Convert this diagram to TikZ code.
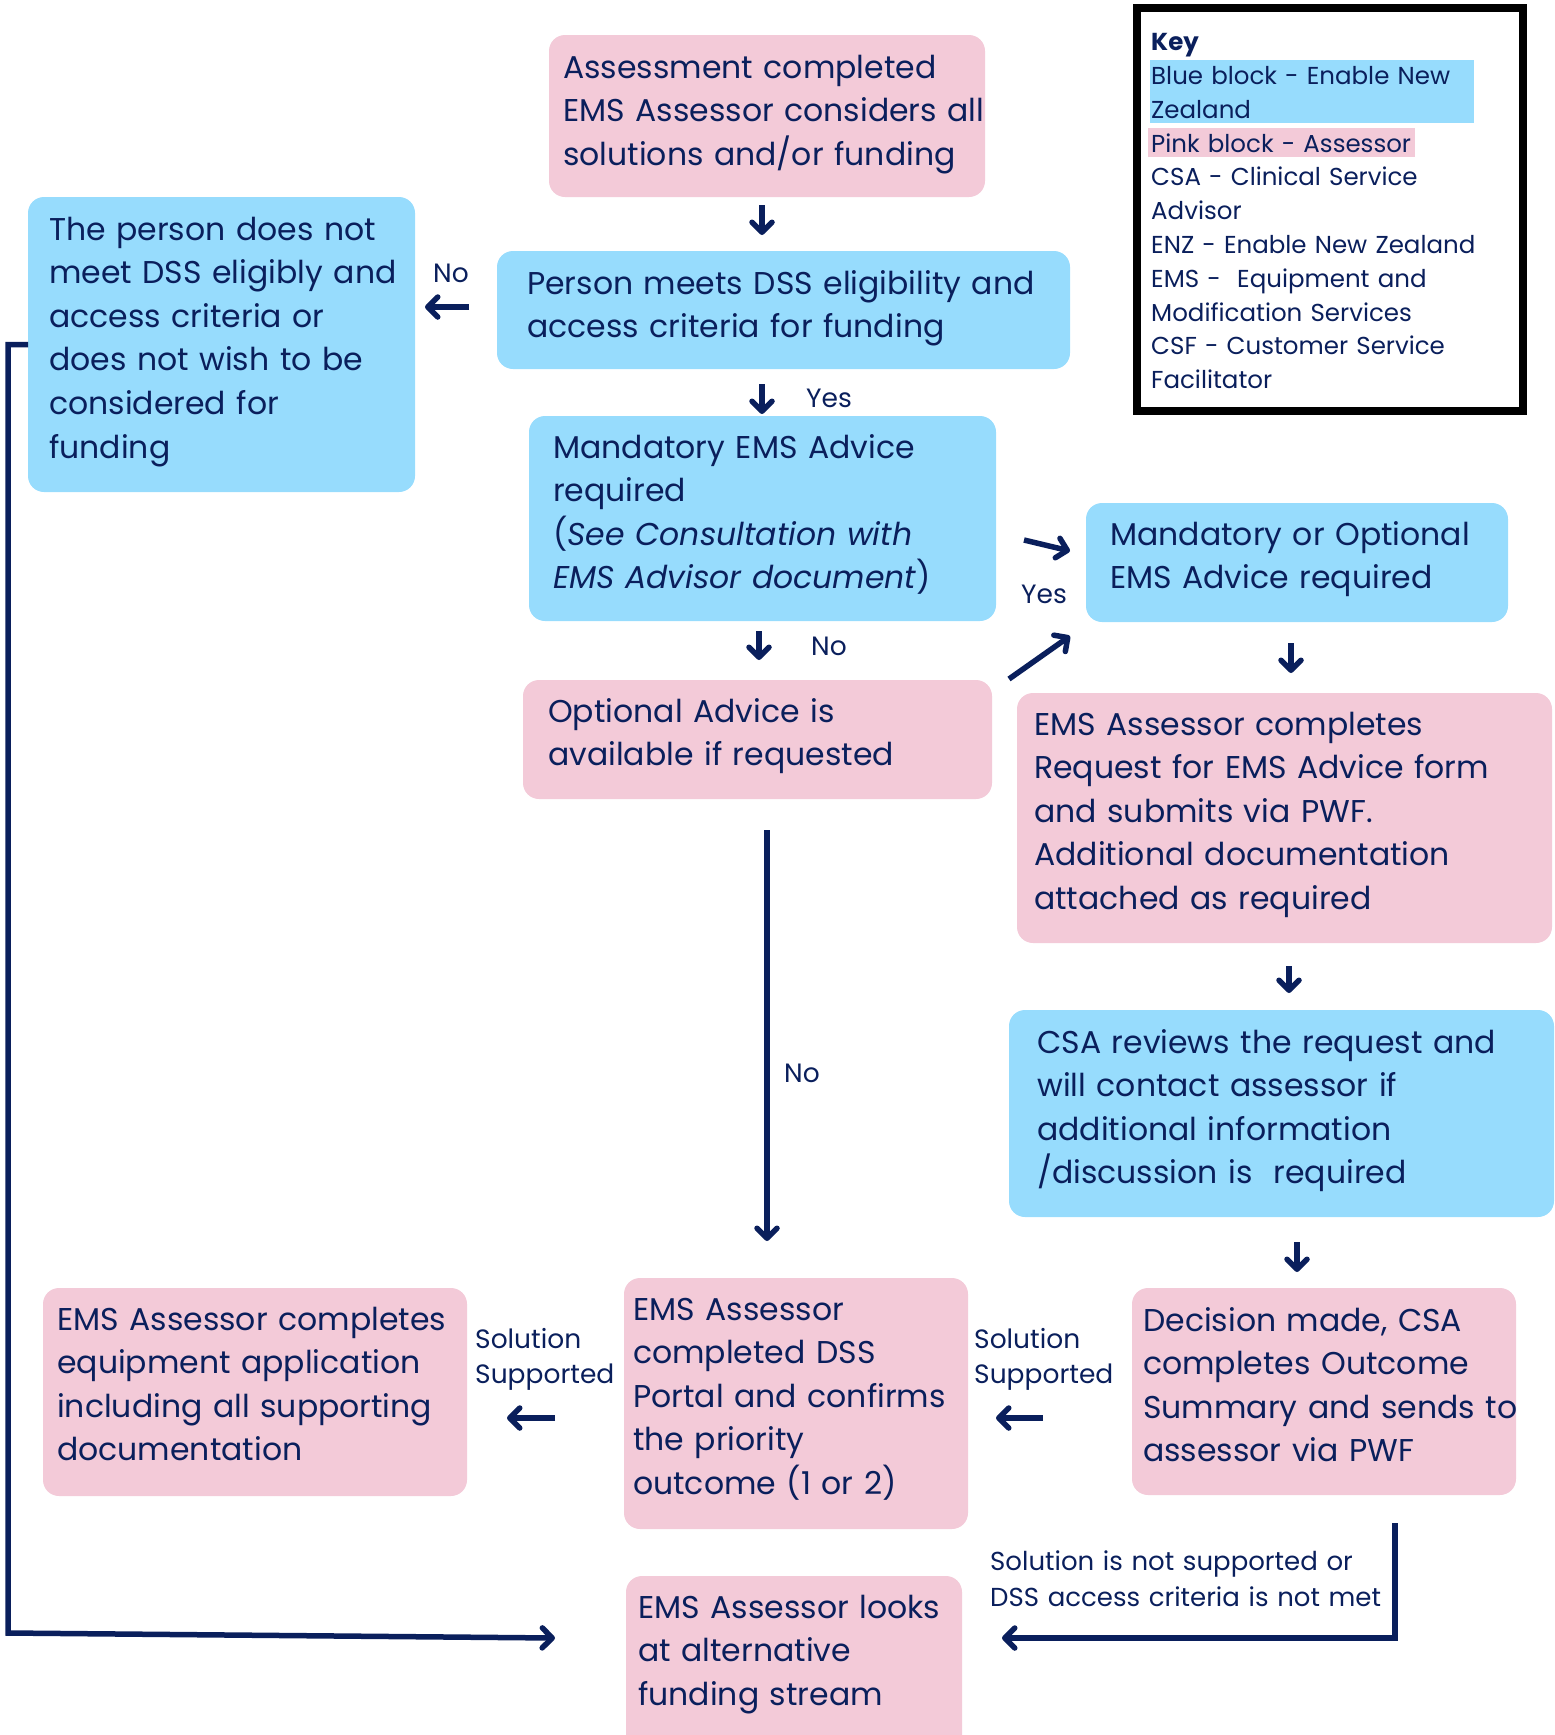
\documentclass[tikz,border=0pt]{standalone}
\usepackage{fontspec}
\setmainfont{Poppins}
\usetikzlibrary{arrows.meta}
\definecolor{navy}{HTML}{0A1F5C}
\definecolor{skyblock}{HTML}{97DCFD}
\definecolor{pinkblock}{HTML}{F3CAD8}
\tikzset{
  block/.style={rounded corners=16pt, inner sep=0pt, outer sep=0pt, anchor=north west},
  bluebox/.style={block, fill=skyblock},
  pinkbox/.style={block, fill=pinkblock},
  boxtext/.style={anchor=base west, inner sep=0pt, text width=560pt, align=left, text=navy, font=\fontsize{31.5}{43.6}\selectfont},
  smalltext/.style={anchor=base west, inner sep=0pt, text width=400pt, align=left, text=navy, font=\fontsize{26.5}{35}\selectfont},
  arr/.style={draw=navy, line width=5.5pt, -{Straight Barb[length=10pt,width=20pt,round]}},
}
\begin{document}
\begin{tikzpicture}[x=1pt,y=-1pt]
            \useasboundingbox (0,0) rectangle (1555,1735);
            \clip (0,0) rectangle (1555,1735);
            % Key
            \node[draw=black, fill=white, line width=8pt, inner sep=0pt, outer sep=0pt, anchor=north west, minimum width=386, minimum height=403] (keybox) at (1137,8) {};
            \fill[skyblock] (1150,60) rectangle (1474,123);
            \fill[pinkblock] (1148,128) rectangle (1415,157);
            \node[anchor=base west, inner sep=0pt, text width=360pt, align=left, text=navy, font=\fontsize{24.5}{33.8}\selectfont] (keyT) at (1151,50.7) {\textbf{Key}\\Blue block - Enable New\\Zealand\\Pink block - Assessor\\CSA - Clinical Service\\Advisor\\ENZ - Enable New Zealand\\EMS -~ Equipment and\\Modification Services\\CSF - Customer Service\\Facilitator};
            % Assessment
            \node[pinkbox, minimum width=436, minimum height=162] (assess) at (549,35) {};
            \node[boxtext] (assessT) at (563,78) {Assessment completed\\EMS Assessor considers all\\solutions and/or funding};
            % DSS eligibility
            \node[bluebox, minimum width=573, minimum height=118] (meets) at (497,251) {};
            \node[boxtext] (meetsT) at (527,294) {Person meets DSS eligibility and\\access criteria for funding};
            % not eligible
            \node[bluebox, minimum width=387, minimum height=295] (notmeet) at (28,197) {};
            \node[boxtext] (notmeetT) at (49,240) {The person does not\\meet DSS eligibly and\\access criteria or\\does not wish to be\\considered for\\funding};
            % mandatory advice
            \node[bluebox, minimum width=467, minimum height=205] (mand) at (529,416) {};
            \node[boxtext] (mandT) at (553,458) {Mandatory EMS Advice\\required\\(\textit{See Consultation with}\\\textit{EMS Advisor document})};
            % mandatory or optional
            \node[bluebox, minimum width=422, minimum height=119] (mandopt) at (1086,503) {};
            \node[boxtext] (mandoptT) at (1110,545) {Mandatory or Optional\\EMS Advice required};
            % optional advice
            \node[pinkbox, minimum width=469, minimum height=119] (optadv) at (523,680) {};
            \node[boxtext] (optadvT) at (548,722) {Optional Advice is\\available if requested};
            % request form
            \node[pinkbox, minimum width=535, minimum height=250] (request) at (1017,693) {};
            \node[boxtext] (requestT) at (1034,735) {EMS Assessor completes\\Request for EMS Advice form\\and submits via PWF.\\Additional documentation\\attached as required};
            % CSA review
            \node[bluebox, minimum width=545, minimum height=207] (csa) at (1009,1010) {};
            \node[boxtext] (csaT) at (1037,1053) {CSA reviews the request and\\will contact assessor if\\additional information\\/discussion is~ required};
            % decision
            \node[pinkbox, minimum width=384, minimum height=207] (decision) at (1132,1288) {};
            \node[boxtext] (decisionT) at (1143,1331) {Decision made, CSA\\completes Outcome\\Summary and sends to\\assessor via PWF};
            % DSS portal
            \node[pinkbox, minimum width=344, minimum height=251] (dss) at (624,1278) {};
            \node[boxtext] (dssT) at (633,1320) {EMS Assessor\\completed DSS\\Portal and confirms\\the priority\\outcome (1 or 2)};
            % equipment application
            \node[pinkbox, minimum width=424, minimum height=208] (equip) at (43,1288) {};
            \node[boxtext] (equipT) at (57,1330) {EMS Assessor completes\\equipment application\\including all supporting\\documentation};
            % alternative funding
            \node[pinkbox, minimum width=336, minimum height=190] (alt) at (626,1576) {};
            \node[boxtext] (altT) at (638,1618) {EMS Assessor looks\\at alternative\\funding stream};
            % labels
            \node[smalltext] (noA) at (433,282) {No};
            \node[smalltext] (yesA) at (806,407) {Yes};
            \node[smalltext] (noB) at (811,655) {No};
            \node[smalltext] (yesB) at (1021,603) {Yes};
            \node[smalltext] (noC) at (784,1082) {No};
            \node[smalltext] (solL) at (475,1348) {Solution\\Supported};
            \node[smalltext] (solR) at (974,1348) {Solution\\Supported};
            \node[smalltext, font=\fontsize{26}{36}\selectfont] (notsup) at (990,1570) {Solution is not supported or\\DSS access criteria is not met};
            % arrows
            \draw[arr] ([shift={(-5,8)}]assess.south) -- ([shift={(-21.5,-16)}]meets.north);
            \draw[arr] ([shift={(-21.5,15)}]meets.south) -- ([shift={(-0.5,-2)}]mand.north);
            \draw[arr] ([shift={(-28,-3)}]meets.west) -- ([shift={(10,-37.5)}]notmeet.east);
            \draw[arr] ([shift={(28,21.5)}]mand.east) -- ([shift={(-16,-11.5)}]mandopt.west);
            \draw[arr] ([shift={(17,-1)}]optadv.north east) -- ([shift={(-16,14)}]mandopt.south west);
            \draw[arr] ([shift={(-3.5,10)}]mand.south) -- ([shift={(1.5,-20)}]optadv.north);
            \draw[arr] ([shift={(-6,21)}]mandopt.south) -- ([shift={(6.5,-20)}]request.north);
            \draw[arr] ([shift={(4.5,23)}]request.south) -- ([shift={(7.5,-17)}]csa.north);
            \draw[arr] ([shift={(15.5,25)}]csa.south) -- ([shift={(-27,-16)}]decision.north);
            \draw[arr] ([shift={(-89,26.5)}]decision.west) -- ([shift={(28,14.5)}]dss.east);
            \draw[arr] ([shift={(-69,14.5)}]dss.west) -- ([shift={(40,26)}]equip.east);
            \draw[arr] ([shift={(9.5,31)}]optadv.south) -- ([shift={(-29,-37)}]dss.north);
            % back to alternative funding
            \draw[arr] (notmeet.west) -- ++(-20,0) -- ++(0,1288.5) -- ([shift={(-71,62)}]alt.north west);
            \draw[arr] ([shift={(71,28)}]decision.south) |- ([shift={(40,62)}]alt.north east);
\end{tikzpicture}
\end{document}
